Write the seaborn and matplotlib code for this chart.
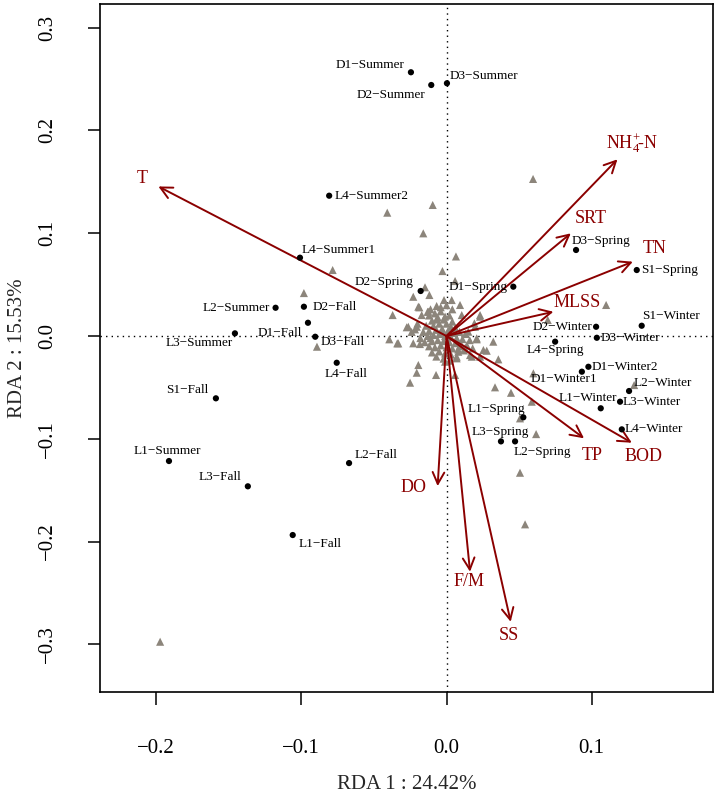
import numpy as np
import pandas as pd
import matplotlib
matplotlib.use("Agg")
import matplotlib.pyplot as plt
import seaborn as sns

# ---------------- data ----------------
# sample scores (RDA1, RDA2)
sample_names = ["D1−Summer", "D2−Summer", "D3−Summer", "L4−Summer2", "L4−Summer1",
                "D2−Spring", "D1−Spring", "D3−Spring", "S1−Spring", "S1−Winter",
                "D2−Winter", "D3−Winter", "L4−Spring", "D1−Winter2", "D1−Winter1",
                "L2−Winter", "L3−Winter", "L1−Winter", "L4−Winter", "L1−Spring",
                "L3−Spring", "L2−Spring", "L2−Summer", "D2−Fall", "D1−Fall",
                "L3−Summer", "D3−Fall", "L4−Fall", "S1−Fall", "L1−Summer",
                "L2−Fall", "L3−Fall", "L1−Fall"]
sample_x = [-0.0245, -0.0105, 0.0003, -0.0808, -0.1009,
            -0.0178, 0.0460, 0.0892, 0.1310, 0.1344,
            0.1030, 0.1035, 0.0748, 0.0977, 0.0932,
            0.1257, 0.1195, 0.1062, 0.1207, 0.0529,
            0.0375, 0.0472, -0.1177, -0.0982, -0.0954,
            -0.1457, -0.0904, -0.0756, -0.1588, -0.1911,
            -0.0671, -0.1368, -0.1059]
sample_y = [0.2566, 0.2442, 0.2459, 0.1365, 0.0762,
            0.0438, 0.0480, 0.0837, 0.0642, 0.0100,
            0.0090, -0.0017, -0.0055, -0.0299, -0.0347,
            -0.0535, -0.0639, -0.0703, -0.0908, -0.0791,
            -0.1025, -0.1025, 0.0275, 0.0285, 0.0129,
            0.0026, -0.0007, -0.0260, -0.0606, -0.1216,
            -0.1236, -0.1462, -0.1936]

# species scores (OTUs)
species_x = [0.0596, -0.0095, -0.0160, 0.0065, -0.0028, 0.0059, -0.0784, -0.0982,
             -0.0892, 0.1099, 0.0697, 0.0357, -0.0072, 0.0598, 0.0444, 0.1292,
             0.0506, 0.0617, -0.0251, 0.0334, 0.0587, 0.0506, 0.0541, -0.1972,
             -0.0371, -0.0394, -0.0339, -0.0194, -0.0205, 0.0231, 0.0322, 0.0208,
             0.0070, 0.0277, 0.0231, 0.0162, 0.0127, 0.0081, -0.0010, -0.0229,
             -0.0118, -0.0017, 0.0036, 0.0093, -0.0187, -0.0125, -0.0068, -0.0274,
             -0.0217, 0.0196, -0.0194, -0.0130, -0.0171, 0.0231, 0.0105, -0.0263,
             -0.0205, -0.0332, -0.0229, -0.0183, 0.0192, 0.0208, 0.0150, 0.0254,
             0.0174, 0.0070, 0.0059, -0.0408, -0.0148,
             -0.012, -0.008, -0.004, -0.006, -0.010, -0.002, 0.002, -0.014, -0.009,
             -0.005, 0.000, 0.004, 0.006, -0.016, -0.012, -0.007, -0.003, 0.001,
             0.005, 0.009, -0.018, -0.013, -0.009, -0.005, -0.001, 0.003, 0.007,
             0.011, -0.015, -0.010, -0.006, -0.002, 0.002, 0.006, 0.010, 0.014,
             -0.012, -0.008, -0.004, 0.000, 0.004, 0.008, 0.012, -0.010, -0.005,
             -0.001, 0.003, -0.007, -0.002, 0.002, -0.004, -0.011, 0.000, 0.004,
             -0.020, -0.024, 0.013, 0.016, 0.018, -0.003, -0.007, 0.003, -0.011,
             0.009, -0.001]
species_y = [0.1528, 0.1275, 0.0999, 0.0774, 0.0632, 0.0535, 0.0642, 0.0418,
             -0.0104, 0.0302, 0.0156, -0.0227, -0.0379, -0.0363, -0.0552, -0.0477,
             -0.0801, -0.0954, -0.0454, -0.0499, -0.0639, -0.1330, -0.1832, -0.2974,
             0.0204, -0.0032, -0.0071, -0.0282, -0.0357, 0.0188, -0.0055, -0.0022,
             -0.0217, -0.0143, -0.0201, -0.0185, -0.0120, -0.0153, -0.0250, 0.0382,
             0.0399, 0.0350, 0.0350, 0.0302, 0.0279, 0.0236, 0.0292, 0.0085,
             0.0065, 0.0090, 0.0285, 0.0236, 0.0204, 0.0204, 0.0204, 0.0090,
             0.0090, -0.0071, -0.0071, -0.0078, 0.0124, -0.0032, 0.0042, -0.0136,
             -0.0201, -0.0201, -0.0379, 0.1200, 0.0474,
             0.020, 0.022, 0.024, 0.018, 0.015, 0.016, 0.020, 0.010, 0.010,
             0.012, 0.012, 0.014, 0.008, 0.004, 0.005, 0.006, 0.007, 0.005,
             0.003, 0.004, -0.002, 0.000, 0.001, 0.002, 0.000, -0.001, -0.002,
             -0.003, -0.006, -0.005, -0.004, -0.005, -0.006, -0.007, -0.008, -0.009,
             -0.010, -0.011, -0.009, -0.011, -0.012, -0.013, -0.014, -0.016, -0.015,
             -0.017, -0.018, -0.020, -0.022, -0.024, 0.028, 0.026, 0.030, 0.026,
             0.012, 0.004, 0.002, -0.004, -0.012, 0.003, 0.016, 0.009, -0.002,
             -0.010, 0.019]

# environmental vectors (biplot arrows)
env_names = ["T", r"NH$_4^{+}\!$-N", "SRT", "TN", "MLSS", "TP", "BOD", "DO", "F/M", "SS"]
env_x = [-0.1984, 0.1177, 0.0856, 0.1283, 0.0736, 0.0947, 0.1276, -0.0061, 0.0162, 0.0442]
env_y = [0.1455, 0.1719, 0.0999, 0.0723, 0.0236, -0.0995, -0.1038, -0.1460, -0.2293, -0.2780]
env_label_x = [-0.2097, 0.1276, 0.0993, 0.1436, 0.0897, 0.1002, 0.1354, -0.0229, 0.0157, 0.0426]
env_label_y = [0.1537, 0.1875, 0.1145, 0.0853, 0.0324, -0.1158, -0.1168, -0.1472, -0.2391, -0.2909]

x_ticks = [-0.2, -0.1, 0.0, 0.1]
y_ticks = [-0.3, -0.2, -0.1, 0.0, 0.1, 0.2, 0.3]
x_label = "RDA 1 : 24.42%"
y_label = "RDA 2 : 15.53%"

# label placement for sample names: (ha, dx px, dy px)
label_place = {
    "D1−Summer": ("right", -6, 7), "D2−Summer": ("right", -6, -10),
    "D3−Summer": ("left", 3, 7), "L4−Summer2": ("left", 5, 0),
    "L4−Summer1": ("left", 2, 8), "D2−Spring": ("right", -7, 9),
    "D1−Spring": ("right", -6, 0), "D3−Spring": ("left", -4, 9),
    "S1−Spring": ("left", 4, 0), "S1−Winter": ("left", 0, 10),
    "D2−Winter": ("right", -4, 0), "D3−Winter": ("left", 4, 0),
    "L4−Spring": ("center", 0, -8), "D1−Winter2": ("left", 3, 0),
    "D1−Winter1": ("center", -18, -7), "L2−Winter": ("left", 5, 8),
    "L3−Winter": ("left", 3, 0), "L1−Winter": ("right", 16, 10),
    "L4−Winter": ("left", 3, 0), "L1−Spring": ("right", 2, 8),
    "L3−Spring": ("center", -1, 9), "L2−Spring": ("left", -1, -11),
    "L2−Summer": ("right", -6, 0), "D2−Fall": ("left", 9, 0),
    "D1−Fall": ("right", -6, -10), "L3−Summer": ("right", -2, -10),
    "D3−Fall": ("left", 5, -5), "L4−Fall": ("center", 9, -11),
    "S1−Fall": ("right", -8, 8), "L1−Summer": ("center", -2, 10),
    "L2−Fall": ("left", 6, 8), "L3−Fall": ("right", -6, 9),
    "L1−Fall": ("left", 6, -9),
}

# ---------------- style ----------------
sns.set_style("ticks")
plt.rcParams["font.family"] = ["Liberation Serif", "DejaVu Serif"]
plt.rcParams["mathtext.fontset"] = "custom"
plt.rcParams["mathtext.rm"] = "Liberation Serif"
plt.rcParams["mathtext.it"] = "Liberation Serif:italic"
plt.rcParams["mathtext.bf"] = "Liberation Serif:bold"
plt.rcParams["axes.unicode_minus"] = True

RED = "#8B0000"
TRI = "#8C857B"

fig = plt.figure(figsize=(7.14, 7.95), dpi=100)
ax = fig.add_axes([100 / 714, 103 / 795, 613 / 714, 688 / 795])

species = pd.DataFrame({"x": species_x, "y": species_y})
samples = pd.DataFrame({"x": sample_x, "y": sample_y, "name": sample_names})

# reference lines
ax.axvline(0, color="black", lw=1.0, ls=(0, (1, 3)), zorder=1)
ax.axhline(0, color="black", lw=1.0, ls=(0, (1, 3)), zorder=1)

sns.scatterplot(data=species, x="x", y="y", marker="^", s=34, color=TRI,
                edgecolor="none", linewidth=0, ax=ax, zorder=2)
sns.scatterplot(data=samples, x="x", y="y", marker="o", s=20, color="black",
                edgecolor="none", linewidth=0, ax=ax, zorder=4)

for _, r in samples.iterrows():
    ha, dx, dy = label_place[r["name"]]
    ax.annotate(r["name"], xy=(r["x"], r["y"]), xytext=(dx * 0.72, dy * 0.72),
                textcoords="offset points", ha=ha, va="center", fontsize=9.5,
                color="black", zorder=5)

for name, ex, ey, lx, ly in zip(env_names, env_x, env_y, env_label_x, env_label_y):
    ax.annotate("", xy=(ex, ey), xytext=(0, 0),
                arrowprops=dict(arrowstyle="->,head_length=0.6,head_width=0.3",
                                color=RED, lw=1.4, mutation_scale=14,
                                shrinkA=0, shrinkB=0), zorder=3)
    ax.text(lx, ly, name, color=RED, fontsize=13, ha="center", va="center", zorder=5)

ax.set_xlim(-0.2386, 0.1835)
ax.set_ylim(-0.3463, 0.3230)
ax.set_xticks(x_ticks)
ax.set_yticks(y_ticks)
ax.set_xticklabels([f"{v:.1f}".replace("-", "−") for v in x_ticks])
ax.set_yticklabels([f"{v:.1f}".replace("-", "−") for v in y_ticks])
ax.tick_params(axis="both", labelsize=15, length=9, width=1.1, direction="out",
               colors="black")
ax.tick_params(axis="x", pad=25)
ax.tick_params(axis="y", pad=22, labelrotation=90)
for lbl in ax.get_yticklabels():
    lbl.set_va("center")
for sp in ax.spines.values():
    sp.set_visible(True)
    sp.set_linewidth(1.2)
    sp.set_color("black")

ax.set_xlabel(x_label, fontsize=15, labelpad=12)
ax.set_ylabel(y_label, fontsize=15, labelpad=8)

fig.savefig("out.png", dpi=100)
